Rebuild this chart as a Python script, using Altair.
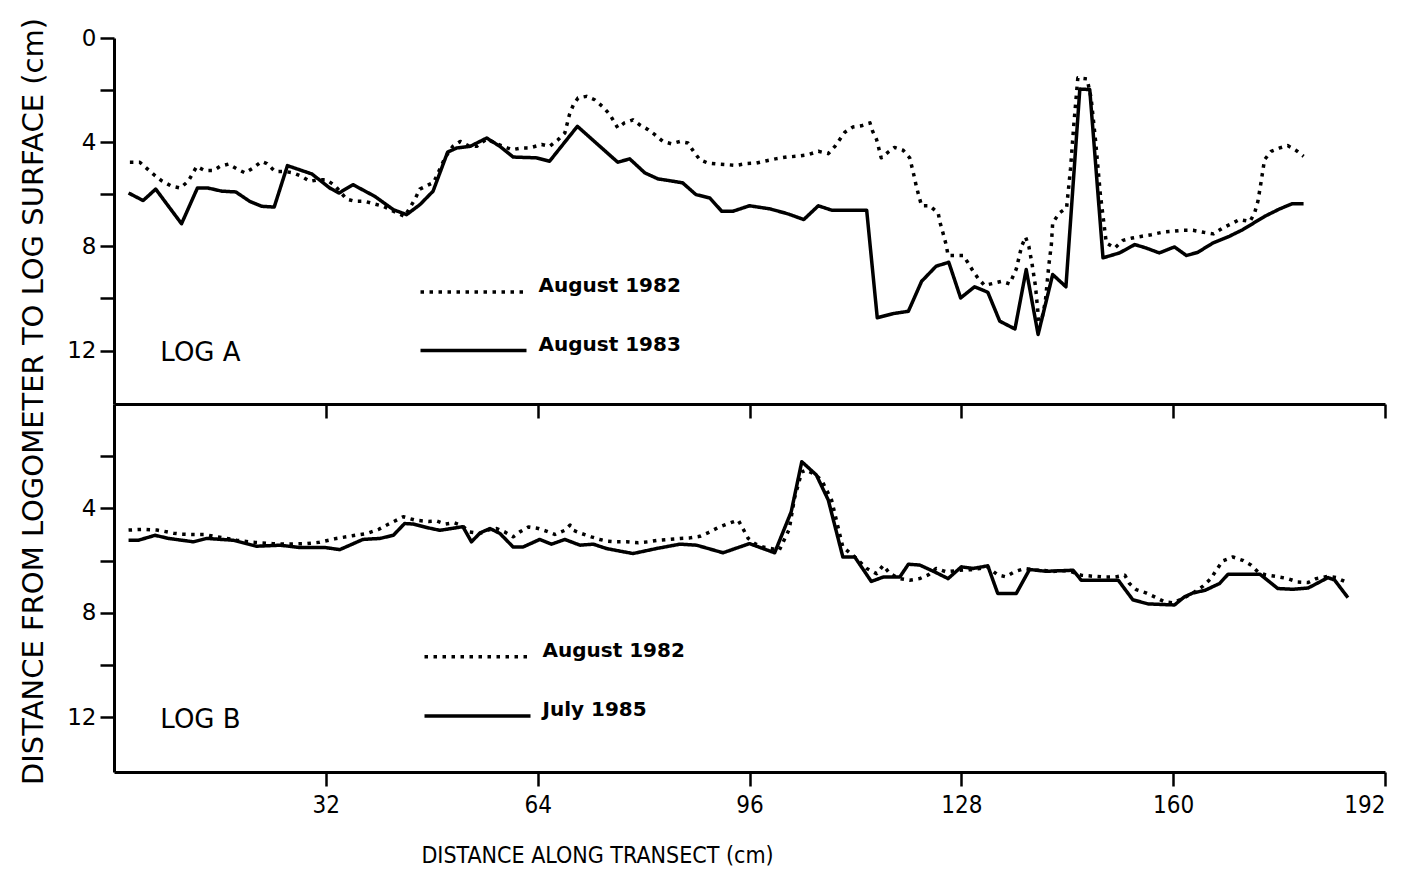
import altair as alt
import pandas as pd

# ---------------- LOG A ----------------
a82_x = [2.4, 3.9, 5.9, 7.2, 8.7, 10.0, 11.2, 12.5, 13.7, 15.0, 16.0, 17.3, 18.6, 19.8, 21.0, 22.3, 23.1,
         24.3, 25.8, 27.1, 28.3, 29.6, 30.9, 32.1, 33.4, 35.1, 36.4, 37.9, 39.2, 40.7, 42.2, 43.9, 45.5,
         46.2, 48.3, 50.0, 51.2, 52.3, 53.5, 54.8, 56.3, 58.5, 60.1, 61.6, 62.8, 64.6, 65.8, 67.1, 68.1,
         68.8, 69.4, 70.1, 71.4, 72.6, 73.9, 74.9, 76.1, 77.1, 78.4, 79.4, 80.7, 81.7, 82.9, 84.2, 85.5,
         86.7, 87.7, 88.5, 89.7, 91.3, 92.5, 94.0, 95.5, 97.0, 98.6, 100.1, 101.6, 103.1, 104.8, 106.4,
         107.9, 108.9, 110.4, 111.6, 112.9, 114.2, 114.6, 115.2, 115.9, 116.9, 117.9, 119.2, 120.2, 120.7,
         121.2, 121.6, 122.0, 123.2, 124.5, 124.8, 125.3, 125.7, 126.0, 127.0, 128.3, 129.0, 129.8, 130.5,
         131.5, 133.1, 134.1, 135.3, 136.3, 137.1, 137.7, 138.2, 138.7, 139.2, 139.7, 140.2, 140.7, 141.2,
         141.6, 141.8, 142.8, 143.9, 144.5, 145.0, 145.6, 147.0, 147.6, 148.3, 149.0, 149.9, 151.2, 152.4,
         153.8, 155.3, 156.7, 158.5, 160.0, 161.5, 163.0, 164.6, 166.1, 167.5, 168.8, 170.0, 171.6, 172.3,
         172.8, 173.3, 173.8, 174.8, 176.1, 177.3, 178.6, 179.7]
a82_y = [4.77, 4.77, 5.22, 5.48, 5.69, 5.76, 5.5, 4.93, 5.09, 5.09, 4.93, 4.84, 5.03, 5.18, 4.99, 4.74, 4.82,
         5.12, 5.12, 5.18, 5.31, 5.5, 5.44, 5.44, 5.67, 6.18, 6.27, 6.27, 6.36, 6.46, 6.65, 6.85, 6.17,
         5.8, 5.54, 4.6, 4.15, 3.97, 4.13, 4.16, 3.88, 4.13, 4.29, 4.22, 4.22, 4.09, 4.16, 3.9, 3.65,
         2.94, 2.56, 2.3, 2.24, 2.37, 2.65, 2.94, 3.45, 3.26, 3.14, 3.33, 3.52, 3.71, 3.97, 4.06, 3.97,
         4.03, 4.41, 4.67, 4.8, 4.84, 4.86, 4.89, 4.82, 4.8, 4.71, 4.63, 4.57, 4.54, 4.48, 4.35,
         4.44, 4.16, 3.62, 3.42, 3.37, 3.26, 3.58, 3.9, 4.6, 4.39, 4.2, 4.31, 4.6, 5.12,
         5.69, 6.08, 6.44, 6.44, 6.72, 7.1, 7.55, 7.93, 8.35, 8.35, 8.35, 8.63, 8.96, 9.21,
         9.5, 9.4, 9.34, 9.44, 8.87, 8.0, 7.64, 8.0, 8.7, 9.53, 10.87, 10.74, 10.1, 8.76,
         7.93, 7.1, 6.72, 6.52, 5.0, 3.3, 1.53, 1.57, 2.3, 4.0, 6.0, 7.87, 8.06, 7.77,
         7.68, 7.61, 7.55, 7.45, 7.42, 7.38, 7.38, 7.46, 7.52, 7.29, 7.13, 6.97, 7.04, 6.72,
         6.27, 5.5, 4.67, 4.35, 4.22, 4.13, 4.32, 4.54]

a83_x = [2.2, 4.4, 6.3, 10.2, 12.6, 14.2, 16.3, 18.4, 20.5, 22.3, 24.2, 26.2, 29.9, 32.6, 34.0, 36.1, 39.4,
         42.2, 44.2, 46.2, 48.2, 50.4, 51.8, 53.8, 56.3, 58.3, 60.3, 63.8, 65.8, 70.0, 76.1, 77.9, 80.2,
         82.2, 84.0, 85.9, 87.9, 90.0, 91.8, 93.5, 96.0, 99.1, 101.8, 104.2, 106.4, 108.4, 113.7, 115.3,
         117.7, 120.0, 122.0, 124.2, 126.1, 127.9, 130.0, 132.0, 133.8, 136.1, 137.8, 139.6, 141.8, 143.8,
         145.9, 147.4, 149.4, 151.9, 154.2, 155.9, 157.9, 160.2, 162.0, 163.7, 166.0, 168.5, 170.5, 173.8,
         176.1, 178.0, 179.7]
a83_y = [5.95, 6.24, 5.8, 7.13, 5.76, 5.76, 5.88, 5.91, 6.27, 6.46, 6.49, 4.9, 5.22, 5.76, 5.95, 5.63, 6.08,
         6.59, 6.78, 6.4, 5.88, 4.38, 4.22, 4.16, 3.84, 4.16, 4.57, 4.6, 4.73, 3.39, 4.77, 4.64, 5.18,
         5.41, 5.48, 5.56, 6.01, 6.14, 6.65, 6.65, 6.44, 6.56, 6.75, 6.97, 6.44, 6.61, 6.61, 10.74,
         10.58, 10.49, 9.34, 8.76, 8.61, 9.98, 9.55, 9.76, 10.87, 11.17, 8.89, 11.38, 9.08, 9.55,
         1.96, 1.98, 8.44, 8.25, 7.93, 8.06, 8.25, 8.02, 8.35, 8.23, 7.87, 7.61, 7.36, 6.85,
         6.56, 6.36, 6.36]

# ---------------- LOG B ----------------
b82_x = [2.2, 4.5, 6.5, 7.4, 9.0, 10.2, 12.0, 13.7, 15.5, 17.0, 18.5, 21.0, 24.0, 26.1, 29.1, 31.0, 33.6,
         36.0, 38.2, 40.0, 41.5, 43.7, 45.5, 47.5, 48.7, 50.1, 51.4, 52.6, 53.7, 55.3, 56.5, 57.8, 59.0,
         60.3, 61.3, 62.6, 64.1, 65.3, 66.6, 68.1, 68.9, 69.4, 70.6, 72.1, 73.4, 74.4, 75.9, 77.4, 79.2,
         80.7, 82.2, 83.7, 85.5, 87.0, 88.5, 89.7, 91.3, 92.8, 94.3, 95.0, 95.8, 96.8, 98.0, 100.5, 102.0,
         102.8, 103.9, 104.6, 105.9, 106.9, 108.4, 109.6, 110.1, 111.9, 113.7, 115.2, 116.2, 117.2, 118.7,
         120.2, 121.7, 123.0, 124.2, 125.7, 127.8, 129.5, 130.8, 132.0, 133.5, 134.7, 136.0, 137.6, 139.3,
         140.6, 141.8, 143.1, 144.6, 146.1, 147.9, 149.6, 151.2, 152.7, 153.4, 154.4, 155.9, 157.2, 158.7,
         160.0, 161.4, 163.0, 164.5, 165.7, 166.5, 167.5, 169.0, 170.5, 171.8, 172.8, 174.0, 175.8, 177.3,
         178.8, 180.4, 181.6, 183.4, 184.6, 186.1]
b82_y = [4.83, 4.8, 4.83, 4.87, 4.95, 4.99, 5.0, 5.0, 5.09, 5.15, 5.22, 5.3, 5.35, 5.37, 5.35, 5.3, 5.15,
         5.05, 4.96, 4.8, 4.6, 4.32, 4.45, 4.5, 4.48, 4.6, 4.55, 4.66, 4.9, 4.96, 4.83, 4.77, 4.9,
         5.09, 4.9, 4.71, 4.77, 4.87, 5.0, 4.84, 4.64, 4.84, 4.96, 5.09, 5.19, 5.25, 5.28, 5.28, 5.32,
         5.28, 5.22, 5.19, 5.15, 5.13, 5.07, 4.94, 4.73, 4.58, 4.45, 4.77, 5.15, 5.35, 5.48, 5.6, 4.8,
         3.6, 2.6, 2.53, 2.7, 2.92, 3.68, 4.96, 5.48, 5.86, 6.3, 6.5, 6.18, 6.5, 6.69,
         6.75, 6.69, 6.55, 6.3, 6.43, 6.37, 6.35, 6.3, 6.25, 6.55, 6.62, 6.43, 6.3, 6.37,
         6.38, 6.42, 6.38, 6.42, 6.56, 6.6, 6.63, 6.63, 6.56, 6.88, 7.11, 7.24, 7.39, 7.58,
         7.62, 7.46, 7.24, 6.98, 6.69, 6.37, 6.01, 5.86, 5.99, 6.18, 6.43, 6.55, 6.62, 6.69,
         6.82, 6.84, 6.69, 6.6, 6.65, 6.82]

b85_x = [2.2, 3.7, 6.2, 8.2, 12.0, 14.0, 18.0, 20.3, 21.5, 25.1, 28.1, 31.9, 34.1, 37.6, 40.2, 42.2, 43.9,
         45.2, 47.2, 49.2, 51.0, 52.7, 54.0, 55.3, 56.8, 58.3, 60.3, 61.8, 64.3, 66.1, 68.1, 70.4, 72.4,
         74.4, 78.4, 81.9, 85.5, 88.0, 92.0, 96.0, 99.8, 102.3, 103.9, 106.1, 107.9, 110.1, 111.9, 114.4,
         116.2, 118.7, 120.0, 121.7, 123.7, 126.0, 128.0, 129.8, 132.0, 133.5, 136.3, 138.3, 140.8, 144.9,
         146.1, 148.9, 151.7, 153.9, 156.2, 160.2, 161.7, 163.0, 164.8, 167.0, 168.3, 170.5, 173.1, 175.8,
         178.1, 180.4, 183.4, 184.4, 186.4]
b85_y = [5.22, 5.22, 5.03, 5.15, 5.28, 5.15, 5.22, 5.37, 5.45, 5.41, 5.5, 5.5, 5.58, 5.19, 5.15, 5.03, 4.58,
         4.6, 4.73, 4.84, 4.77, 4.7, 5.28, 4.94, 4.77, 4.96, 5.48, 5.48, 5.19, 5.37, 5.19, 5.41, 5.37,
         5.54, 5.73, 5.54, 5.37, 5.41, 5.7, 5.35, 5.7, 4.13, 2.21, 2.72, 3.68, 5.86, 5.86, 6.8,
         6.63, 6.63, 6.14, 6.17, 6.4, 6.69, 6.24, 6.3, 6.2, 7.26, 7.26, 6.34, 6.41, 6.37,
         6.75, 6.75, 6.75, 7.5, 7.66, 7.7, 7.39, 7.24, 7.14, 6.88, 6.52, 6.52, 6.52, 7.07,
         7.1, 7.05, 6.65, 6.75, 7.42]

x_ticks = [32, 64, 96, 128, 160, 192]
y_ticks_top = [0, 2, 4, 6, 8, 10, 12]
y_ticks_bottom = [2, 4, 6, 8, 10, 12]

panel_names = ["LOG A", "LOG B"]
panel_name_x = [7, 7]
panel_name_y = [12.4, 12.4]

series_a = ["August 1982", "August 1983"]
series_b = ["August 1982", "July 1985"]

DOTTED = [3.5, 5.5]
SOLID = [1, 0]

SANS = "DejaVu Sans"
NARROW = "Liberation Sans Narrow, DejaVu Sans Condensed, Liberation Sans"

X_DOMAIN = [0, 192]
W = 1271


def frame(xs, ys, name):
    return pd.DataFrame({"d": xs, "v": ys, "series": name, "order": list(range(len(xs)))})


def panel(df, series, ydom, height, name_idx, leg_x, leg_y, row_pad, bottom):
    if bottom:
        x_axis = alt.Axis(values=x_ticks, grid=False, tickSize=14, tickWidth=2.5, tickColor="black",
                          domainWidth=3, domainColor="black", labelFont=NARROW, labelFontSize=24,
                          labelColor="black", labelPadding=7,
                          title="DISTANCE ALONG TRANSECT (cm)", titleFont=NARROW, titleFontSize=23,
                          titleFontWeight="normal", titleColor="black", titleX=483, titleY=90,
                          titleBaseline="alphabetic")
        y_axis = alt.Axis(values=y_ticks_bottom, grid=False, tickSize=14, tickWidth=2.5,
                          tickColor="black", domainWidth=3, domainColor="black", labelFont=SANS,
                          labelFontSize=23, labelColor="black", labelPadding=4,
                          labelExpr="datum.value % 4 == 0 ? datum.label : ''", title="")
    else:
        x_axis = alt.Axis(values=x_ticks, grid=False, tickSize=14, tickWidth=2.5, tickColor="black",
                          domainWidth=3, domainColor="black", labels=False, title="")
        y_axis = alt.Axis(values=y_ticks_top, grid=False, tickSize=14, tickWidth=2.5,
                          tickColor="black", domainWidth=3, domainColor="black", labelFont=SANS,
                          labelFontSize=23, labelColor="black", labelPadding=4,
                          labelExpr="datum.value % 4 == 0 ? datum.label : ''",
                          title="DISTANCE FROM LOGOMETER TO LOG SURFACE (cm)", titleFont=SANS,
                          titleFontSize=29, titleFontWeight="normal", titleColor="black",
                          titleAngle=270, titleX=-72, titleY=363, titleAlign="center",
                          titleBaseline="alphabetic")
    legend = alt.Legend(orient="none", legendX=leg_x, legendY=leg_y, title=None, symbolType="stroke",
                        symbolSize=11236, symbolStrokeWidth=3.5, symbolStrokeColor="black",
                        clipHeight=20, rowPadding=row_pad, labelOffset=10, labelFont=SANS,
                        labelFontSize=20, labelFontWeight="bold", labelColor="black",
                        labelBaseline="alphabetic", padding=0, direction="vertical")
    xs = alt.Scale(domain=X_DOMAIN, nice=False, zero=False)
    ys = alt.Scale(domain=ydom, reverse=True, nice=False, zero=False)
    lines = alt.Chart(df).mark_line(color="black", strokeWidth=3.5, strokeCap="butt",
                                    strokeJoin="round").encode(
        x=alt.X("d:Q", scale=xs, axis=x_axis),
        y=alt.Y("v:Q", scale=ys, axis=y_axis),
        strokeDash=alt.StrokeDash("series:N", scale=alt.Scale(domain=series, range=[DOTTED, SOLID]),
                                  legend=legend),
        order="order:Q",
    )
    lab = pd.DataFrame({"d": [panel_name_x[name_idx]], "v": [panel_name_y[name_idx]],
                        "t": [panel_names[name_idx]]})
    text = alt.Chart(lab).mark_text(align="left", baseline="alphabetic", font=SANS, fontSize=26,
                                    color="black").encode(
        x=alt.X("d:Q", scale=xs, axis=x_axis),
        y=alt.Y("v:Q", scale=ys, axis=y_axis),
        text="t:N",
    )
    return alt.layer(lines, text).properties(width=W, height=height)


dfA = pd.concat([frame(a82_x, a82_y, series_a[0]), frame(a83_x, a83_y, series_a[1])])
dfB = pd.concat([frame(b82_x, b82_y, series_b[0]), frame(b85_x, b85_y, series_b[1])])

top = panel(dfA, series_a, [0, 14.05], 366, 0, 304.5, 244, 32.5, False)
bottom = panel(dfB, series_b, [0, 14.1], 368, 1, 308.5, 242.7, 33.3, True)

chart = alt.vconcat(top, bottom, spacing=0, bounds="flush").resolve_scale(
    x="independent", y="independent", strokeDash="independent"
).resolve_legend(strokeDash="independent").properties(
    padding={"left": 10, "top": 9, "right": 0, "bottom": 0}
).configure(background="white").configure_view(stroke="transparent", strokeWidth=0)

chart.save("out.html", embed_options={"renderer": "svg", "actions": False})
